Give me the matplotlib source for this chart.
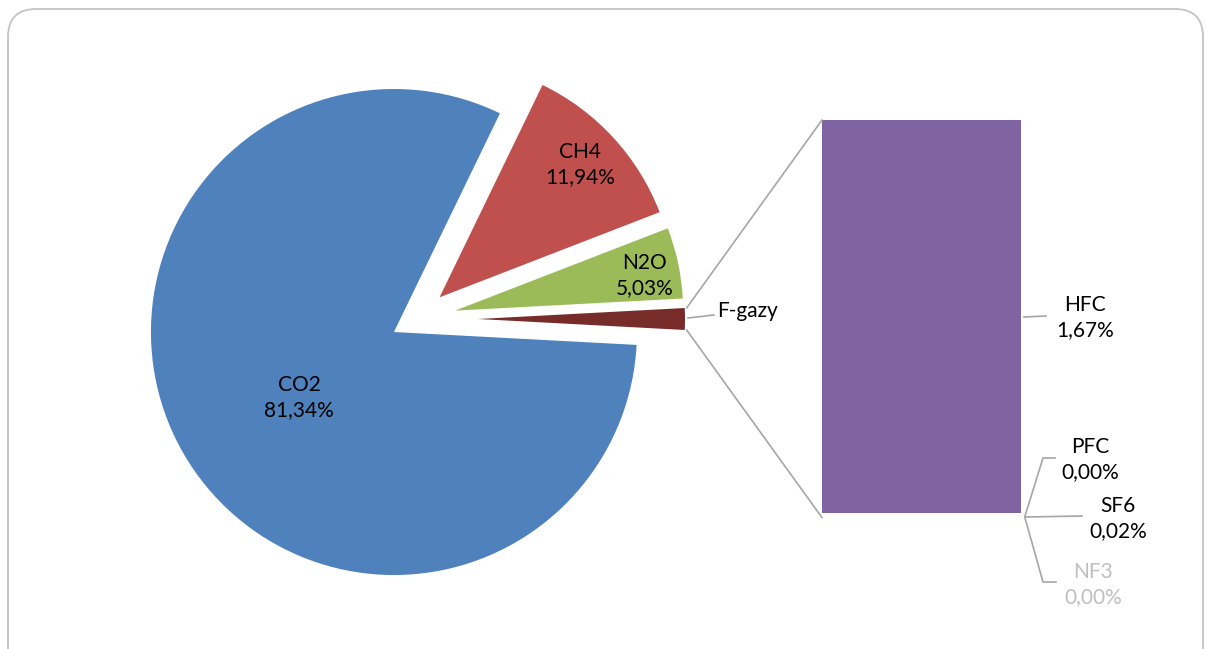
import math
import matplotlib
matplotlib.use("Agg")
import matplotlib.pyplot as plt
from matplotlib.patches import FancyBboxPatch, ConnectionPatch

# pie data (% of total emissions)
pie_names = ["CO2", "CH4", "N2O", "F-gazy"]
main_values = [81.34, 11.94, 5.03]
# F-gas breakdown shown in the bar
fgas_names = ["HFC", "PFC", "SF6", "NF3"]
fgas_values = [1.67, 0.00, 0.02, 0.00]

pie_values = main_values + [sum(fgas_values)]

pie_colors = ["#4F81BD", "#C0504D", "#9BBB59", "#772C2A"]
bar_color = "#8064A2"
line_gray = "#A6A6A6"

plt.rcParams["font.family"] = ["Lato", "DejaVu Sans"]

W, H = 1206, 649
fig = plt.figure(figsize=(W / 100, H / 100), dpi=100)
ax = fig.add_axes([0, 0, 1, 1])

def py(y):  # pixel row -> data y
    return H - y

# === pie ===
center = (416, py(319))
radii = [243, 236, 228, 207]
offsets = [25.6, 32, 40, 62]
fg_share = pie_values[-1] / sum(pie_values)
start = 360 - fg_share * 360 / 2

wedges, _ = ax.pie(pie_values, colors=pie_colors, startangle=start,
                   counterclock=False, radius=200, center=center,
                   frame=True)
ax.set_xlim(0, W)
ax.set_ylim(0, H)
ax.set_aspect("auto")
ax.axis("off")
for w, r, off in zip(wedges, radii, offsets):
    mid = math.radians((w.theta1 + w.theta2) / 2)
    w.set_center((center[0] + off * math.cos(mid), center[1] + off * math.sin(mid)))
    w.set_radius(r)
    w.set_edgecolor("none")

# outer frame
ax.add_patch(FancyBboxPatch((8, -30), W - 11, H - 9 + 30,
                            boxstyle="round,pad=0,rounding_size=28",
                            fc="none", ec="#C4C4C4", lw=1.3, clip_on=False))

def fmt(v):
    return f"{v:.2f}%".replace(".", ",")

fs = 15
lab_kw = dict(ha="center", va="center", fontsize=fs, linespacing=1.32, color="black")
label_pos = [(299, 398), (580, 165), (645, 276)]
for name, v, (x, y) in zip(pie_names, pie_values, label_pos):
    ax.text(x, py(y), f"{name}\n{fmt(v)}", **lab_kw)

ax.text(717, py(311), pie_names[-1], ha="left", va="center", fontsize=fs)
ax.plot([688, 714], [py(318), py(315)], color=line_gray, lw=1.2)

# === bar of F-gases ===
bar_left, bar_right, bar_top, bar_bot = 822, 1021, 120, 517.6
bax = fig.add_axes([bar_left / W, 1 - bar_bot / H,
                    (bar_right - bar_left) / W, (bar_bot - bar_top) / H])
total = sum(fgas_values)
bottom = total
for name, v in zip(fgas_names, fgas_values):
    bottom -= v
    fc = bar_color if name == "HFC" else "none"
    bax.bar(0, v, bottom=bottom, width=1, color=fc, edgecolor="none")
bax.set_xlim(-0.5, 0.5)
bax.set_ylim(0, total)
bax.axis("off")

# connector lines from slice to bar
fw = wedges[-1]
fc_x, fc_y = fw.center
for ang, yb in [(fw.theta2, total), (fw.theta1, 0)]:
    a = math.radians(ang)
    p = (fc_x + (fw.r + 2) * math.cos(a), fc_y + (fw.r + 2) * math.sin(a))
    con = ConnectionPatch(xyA=p, coordsA=ax.transData, xyB=(-0.5, yb),
                          coordsB=bax.transData, color=line_gray, lw=1.2)
    fig.add_artist(con)

# bar labels
ax.plot([1024, 1046], [py(317), py(316)], color=line_gray, lw=1.2)
ax.text(1085, py(318), f"{fgas_names[0]}\n{fmt(fgas_values[0])}", **lab_kw)

ax.plot([1025, 1043, 1055], [py(516), py(458), py(458)], color=line_gray, lw=1.2)
ax.text(1090, py(460), f"{fgas_names[1]}\n{fmt(fgas_values[1])}", **lab_kw)

ax.plot([1025, 1082], [py(517), py(516)], color=line_gray, lw=1.2)
ax.text(1118, py(519), f"{fgas_names[2]}\n{fmt(fgas_values[2])}", **lab_kw)

ax.plot([1025, 1043, 1056], [py(518), py(582), py(582)], color=line_gray, lw=1.2)
nf3_kw = dict(lab_kw, color="#BFBFBF")
ax.text(1093, py(585), f"{fgas_names[3]}\n{fmt(fgas_values[3])}", **nf3_kw)

fig.savefig("out.png", dpi=100)
